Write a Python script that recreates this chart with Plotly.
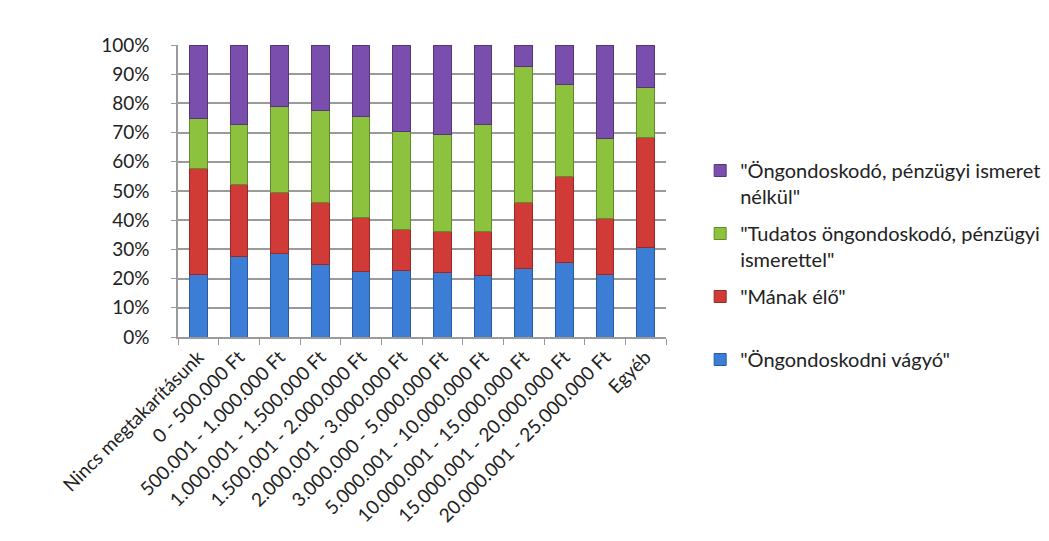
import plotly.graph_objects as go

categories = [
    "Nincs megtakarításunk", "0 - 500.000 Ft", "500.001 - 1.000.000 Ft",
    "1.000.001 - 1.500.000 Ft", "1.500.001 - 2.000.000 Ft", "2.000.001 - 3.000.000 Ft",
    "3.000.000 - 5.000.000 Ft", "5.000.001 - 10.000.000 Ft", "10.000.001 - 15.000.000 Ft",
    "15.000.001 - 20.000.000 Ft", "20.000.001 - 25.000.000 Ft", "Egyéb",
]
# percentages per segment
vagyo = [21.4, 27.5, 28.6, 25.0, 22.5, 22.9, 22.2, 21.1, 23.5, 25.4, 21.5, 30.7]
manak = [36.2, 24.7, 20.8, 21.0, 18.5, 13.9, 14.1, 15.0, 22.4, 29.5, 19.0, 37.6]
tudatos = [17.2, 20.5, 29.7, 31.5, 34.6, 33.6, 32.9, 36.8, 46.8, 31.5, 27.5, 17.3]
ismeret_nelkul = [25.2, 27.3, 20.9, 22.5, 24.4, 29.6, 30.8, 27.1, 7.3, 13.6, 32.0, 14.4]

names = [
    '"Öngondoskodni vágyó"<br> ',
    '"Mának élő"<br> ',
    '"Tudatos öngondoskodó, pénzügyi<br>ismerettel"',
    '"Öngondoskodó, pénzügyi ismeret<br>nélkül"',
]
colors = ["#3C7DD6", "#D03B37", "#8DC23F", "#7A4EAC"]
edge = ["#2A5A9E", "#962A27", "#62892B", "#553578"]

fig = go.Figure()
for i, (vals, nm, c, e) in enumerate(zip([vagyo, manak, tudatos, ismeret_nelkul], names, colors, edge)):
    fig.add_trace(go.Bar(x=categories, y=vals, name=nm, legendgroup=f"g{i}",
                         legendrank=10 - i,
                         marker=dict(color=c, line=dict(color=e, width=1))))

font = "Lato, 'Open Sans', sans-serif"
fig.update_layout(
    barmode="stack",
    bargap=0.56,
    width=1049, height=541,
    margin=dict(l=170, r=391, t=37, b=212, autoexpand=False),
    paper_bgcolor="white", plot_bgcolor="white",
    font=dict(family=font, size=19, color="#222222"),
    legend=dict(x=1.07, y=0.637, xanchor="left", yanchor="top",
                traceorder="grouped", valign="top",
                font=dict(size=20, color="#222222"), tracegroupgap=8,
                itemwidth=30),
    showlegend=True,
)
fig.update_yaxes(range=[0, 100], dtick=10, ticksuffix="%",
                 showgrid=True, gridcolor="#9A9A9A", gridwidth=1.5,
                 showline=True, linecolor="#9A9A9A", linewidth=1.5,
                 ticks="outside", ticklen=5, tickcolor="#9A9A9A",
                 ticklabelstandoff=18,
                 tickfont=dict(size=19), zeroline=False)
fig.update_xaxes(tickangle=-45, tickson="boundaries", ticks="outside",
                 ticklen=6, tickcolor="#9A9A9A", showline=True,
                 linecolor="#9A9A9A", linewidth=1.5,
                 tickfont=dict(size=19))

fig.write_html("out.html")
